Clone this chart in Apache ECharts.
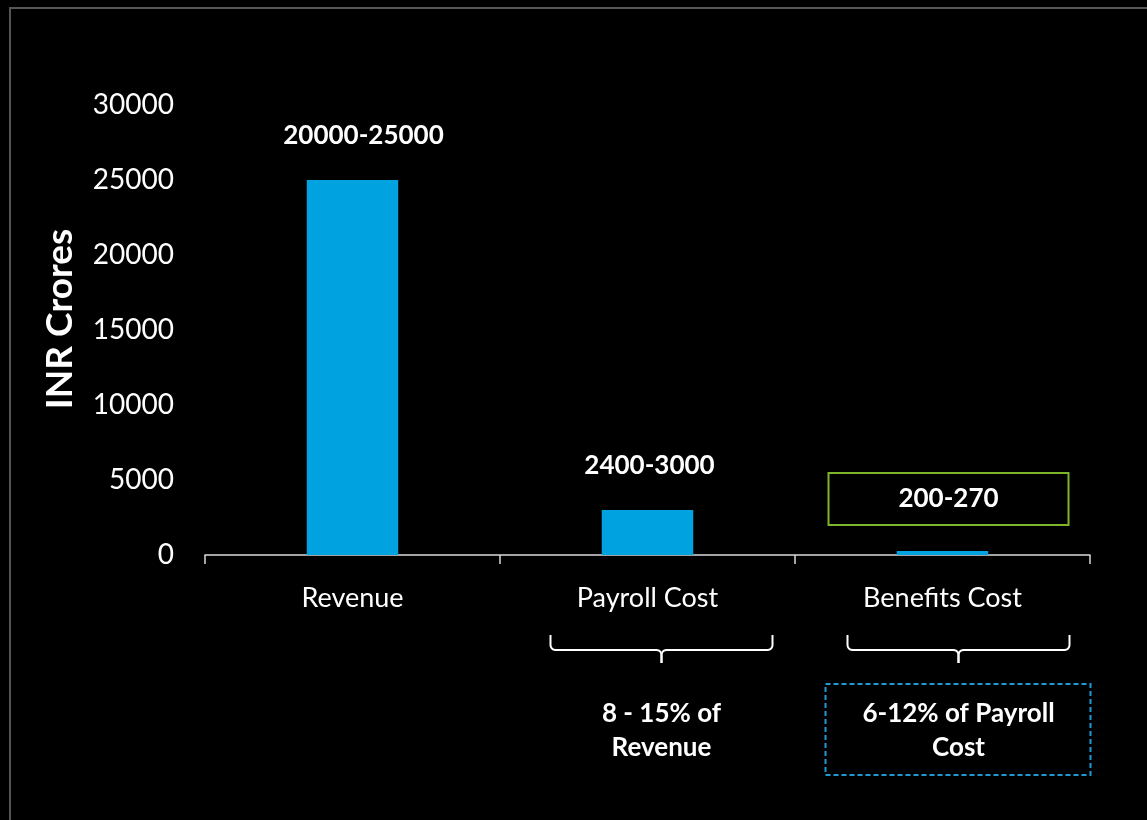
<!DOCTYPE html>
<html>
<head>
<meta charset="utf-8">
<script src="https://cdn.jsdelivr.net/npm/echarts@6/dist/echarts.min.js"></script>
<style>
html,body{margin:0;padding:0;background:#000;}
#chart{width:1147px;height:820px;}
</style>
</head>
<body>
<div id="chart"></div>
<script>
const categories = ['Revenue', 'Payroll Cost', 'Benefits Cost'];
const values = [25000, 3000, 270];
const rangeLabels = ['20000-25000', '2400-3000', '200-270'];
const yTicks = { min: 0, max: 30000, interval: 5000 };
const yTitle = 'INR Crores';
const noteTexts = ['8 - 15% of\nRevenue', '6-12% of Payroll\nCost'];

const FONT = 'Lato, "Open Sans", sans-serif';
const chart = echarts.init(document.getElementById('chart'), null, { renderer: 'canvas' });

const labelOffsets = [[11, 0], [2, 0], [6, 0]];
const seriesData = values.map((v, i) => {
  const d = { value: v, label: { formatter: rangeLabels[i], offset: labelOffsets[i] } };
  if (i === 2) {
    d.label = {
      formatter: rangeLabels[i],
      offset: labelOffsets[i],
      distance: 26,
      width: 240,
      align: 'center',
      padding: [12, 0, 12, 0],
      borderColor: '#7db52a',
      borderWidth: 2
    };
  }
  return d;
});

chart.setOption({
  backgroundColor: '#000',
  animation: false,
  grid: { left: 205, right: 57, top: 105, bottom: 265, containLabel: false },
  xAxis: {
    type: 'category',
    data: categories,
    axisLine: { lineStyle: { color: '#d9d9d9', width: 1.5 } },
    axisTick: { show: true, length: 9, lineStyle: { color: '#d9d9d9', width: 1.5 } },
    axisLabel: { color: '#fff', fontFamily: FONT, fontSize: 27, margin: 30 }
  },
  yAxis: {
    type: 'value',
    min: yTicks.min, max: yTicks.max, interval: yTicks.interval,
    splitLine: { show: false },
    axisLine: { show: false },
    axisTick: { show: false },
    axisLabel: { color: '#fff', fontFamily: FONT, fontSize: 28, margin: 31, formatter: v => String(v) },
    name: yTitle,
    nameLocation: 'middle',
    nameGap: 126,
    nameRotate: 90,
    nameTextStyle: { color: '#fff', fontFamily: FONT, fontSize: 37, fontWeight: 'bold', padding: [0, 0, 0, 22] }
  },
  series: [{
    type: 'bar',
    data: seriesData,
    barWidth: '31%',
    itemStyle: { color: '#00a2e0' },
    label: {
      show: true,
      position: 'top',
      distance: 30,
      color: '#fff',
      fontFamily: FONT,
      fontSize: 26,
      fontWeight: 'bold',
      lineHeight: 28
    }
  }]
});

function arcPts(cx, cy, r, a0, a1) {
  const pts = [];
  for (let k = 0; k <= 6; k++) {
    const a = a0 + (a1 - a0) * k / 6;
    pts.push([cx + r * Math.cos(a), cy + r * Math.sin(a)]);
  }
  return pts;
}
function braceGraphic(cx, halfW, yTop, yLine, yTip) {
  const r = 5;
  const x0 = cx - halfW, x1 = cx + halfW;
  const left = [[x0, yTop]].concat(
    arcPts(x0 + r, yLine - r, r, Math.PI, Math.PI / 2),
    arcPts(cx - r, yLine + r, r, -Math.PI / 2, 0),
    [[cx, yTip]]
  );
  const right = [[x1, yTop]].concat(
    arcPts(x1 - r, yLine - r, r, 0, Math.PI / 2),
    arcPts(cx + r, yLine + r, r, -Math.PI / 2, -Math.PI),
    [[cx, yTip]]
  );
  const st = { fill: null, stroke: '#fff', lineWidth: 2 };
  return [
    { type: 'polyline', shape: { points: left }, style: st },
    { type: 'polyline', shape: { points: right }, style: st }
  ];
}

const c1 = chart.convertToPixel({ xAxisIndex: 0 }, categories[1]);
const c2 = chart.convertToPixel({ xAxisIndex: 0 }, categories[2]);
const b1 = c1 + 14, b2 = c2 + 16;

chart.setOption({
  graphic: [
    { type: 'rect', shape: { x: 10, y: 8, width: 1300, height: 1000 }, style: { fill: null, stroke: '#555', lineWidth: 2 }, silent: true }
  ].concat(
    braceGraphic(b1, 111, 635, 650, 663),
    braceGraphic(b2, 111, 635, 650, 663),
    [
      { type: 'text', x: b1, y: 731, style: { text: noteTexts[0], fill: '#fff', font: 'bold 26px ' + FONT, align: 'center', verticalAlign: 'middle', lineHeight: 34 } },
      { type: 'rect', shape: { x: b2 - 133, y: 684, width: 265, height: 91 }, style: { fill: null, stroke: '#1d9ad6', lineWidth: 2, lineDash: [5, 3] } },
      { type: 'text', x: b2, y: 731, style: { text: noteTexts[1], fill: '#fff', font: 'bold 26px ' + FONT, align: 'center', verticalAlign: 'middle', lineHeight: 34 } }
    ]
  )
});
</script>
</body>
</html>
